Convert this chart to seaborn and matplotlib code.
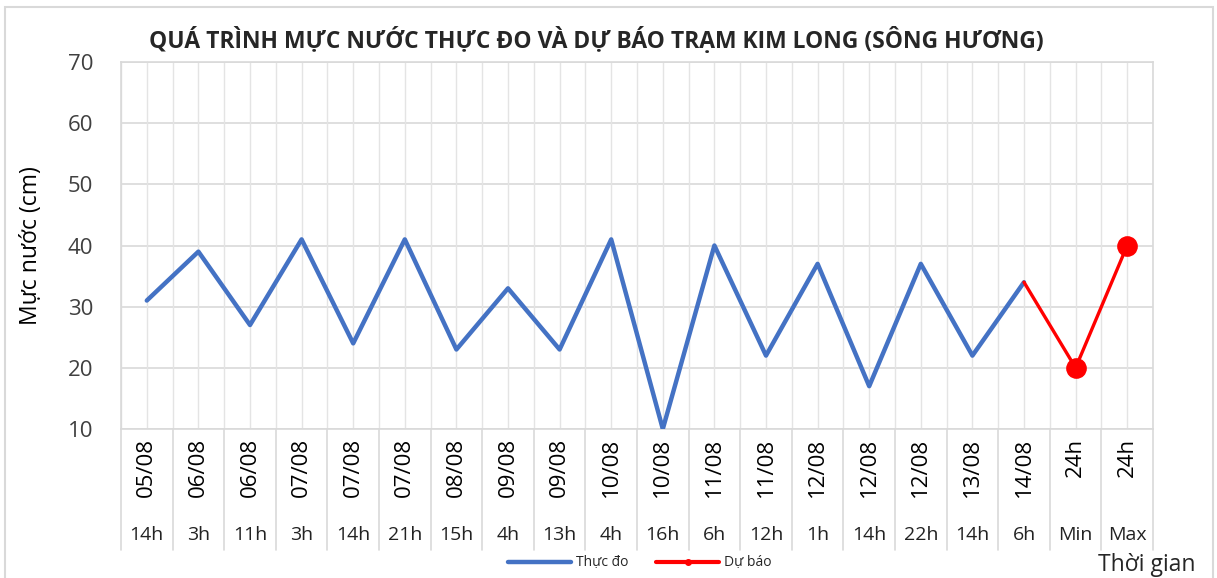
import numpy as np
import pandas as pd
import matplotlib
matplotlib.use("Agg")
import matplotlib.pyplot as plt
import matplotlib.transforms as mtransforms
from matplotlib.lines import Line2D
from matplotlib.patches import Rectangle
import seaborn as sns

## Datos
dates = ['05/08', '06/08', '06/08', '07/08', '07/08', '07/08', '08/08', '09/08', '09/08', '10/08',
         '10/08', '11/08', '11/08', '12/08', '12/08', '12/08', '13/08', '14/08', '24h', '24h']
hours = ['14h', '3h', '11h', '3h', '14h', '21h', '15h', '4h', '13h', '4h',
         '16h', '6h', '12h', '1h', '14h', '22h', '14h', '6h', 'Min', 'Max']
thuc_do = [31, 39, 27, 41, 24, 41, 23, 33, 23, 41, 10, 40, 22, 37, 17, 37, 22, 34]
du_bao = [34, 20, 40]

sns.set_theme(style="white")
plt.rcParams['font.family'] = ['Open Sans', 'DejaVu Sans']

df_obs = pd.DataFrame({'x': np.arange(len(thuc_do)), 'y': thuc_do})
df_fc = pd.DataFrame({'x': np.arange(len(thuc_do) - 1, len(thuc_do) - 1 + len(du_bao)), 'y': du_bao})

fig = plt.figure(figsize=(12.17, 5.78), dpi=100)
ax = fig.add_axes([121 / 1217, 1 - 429 / 578, (1153 - 121) / 1217, (429 - 62) / 578])

blue = '#4472C4'
red = '#FF0000'
grid_c = '#D9D9D9'

sns.lineplot(data=df_obs, x='x', y='y', ax=ax, color=blue, lw=3.2, solid_capstyle='round', zorder=3)
sns.lineplot(data=df_fc, x='x', y='y', ax=ax, color=red, lw=2.4, zorder=4)
sns.scatterplot(data=df_fc.iloc[1:], x='x', y='y', ax=ax, color=red, s=190, edgecolor=red, zorder=5)

n = len(dates)
ax.set_xlim(-0.5, n - 0.5)
ax.set_ylim(10, 70)
ax.set_yticks(range(10, 71, 10))
ax.tick_params(axis='y', labelsize=16, length=0, pad=20, colors='#404040')
ax.set_xticks([])
ax.set_xlabel('')
ax.set_ylabel('Mực nước (cm)', fontsize=16.5, labelpad=18, color='black')

# lineas de la cuadricula
for yv in range(10, 71, 10):
    ax.axhline(yv, color=grid_c, lw=1.2, zorder=0)
for k in range(n):
    ax.axvline(k, color='#E4E4E4', lw=1, zorder=0)
for k in range(n + 1):
    ax.axvline(k - 0.5, color='#E4E4E4', lw=1, zorder=0)
for s in ax.spines.values():
    s.set_color(grid_c)
    s.set_linewidth(1.2)

# etiquetas de categorias en dos niveles
trans = mtransforms.blended_transform_factory(ax.transData, ax.transAxes)
for k in range(n + 1):
    ax.plot([k - 0.5, k - 0.5], [0, -0.33], transform=trans, color=grid_c, lw=1.2, clip_on=False)
for k in range(n):
    ax.text(k, -0.025, dates[k], transform=trans, rotation=90, ha='center', va='top',
            fontsize=16, color='black')
    ax.text(k, -0.29, hours[k], transform=trans, ha='center', va='center',
            fontsize=14, color='#222222')

fig.text(0.49, 0.93, 'QUÁ TRÌNH MỰC NƯỚC THỰC ĐO VÀ DỰ BÁO TRẠM KIM LONG (SÔNG HƯƠNG)',
         ha='center', va='center', fontsize=16.5, fontweight='bold')
fig.text(1196 / 1217, 1 - 565 / 578, 'Thời gian', ha='right', va='center', fontsize=16.5)

handles = [Line2D([0], [0], color=blue, lw=3.2),
           Line2D([0], [0], color=red, lw=3, marker='o', markersize=4)]
fig.legend(handles, ['Thực đo', 'Dự báo'], loc='center', bbox_to_anchor=(640 / 1217, 1 - 563 / 578),
           ncol=2, frameon=False, fontsize=10, handlelength=4.5, columnspacing=2, handletextpad=0.4)

fig.add_artist(Rectangle((5 / 1217, -0.02), (1213 - 5) / 1217, 1 - 7 / 578 + 0.02,
                         transform=fig.transFigure, fill=False, edgecolor='#D9D9D9', lw=1.5))

fig.savefig('out.png', dpi=100)
